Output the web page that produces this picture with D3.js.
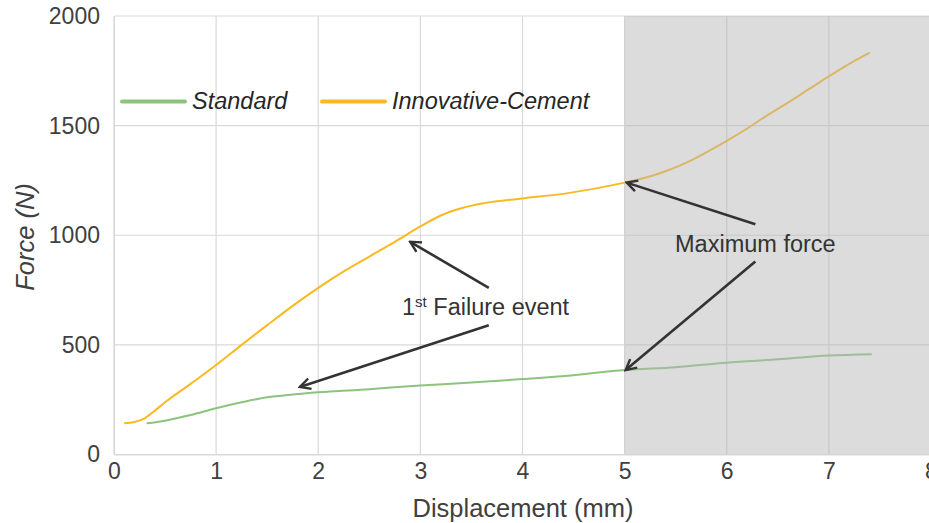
<!DOCTYPE html>
<html>
<head>
<meta charset="utf-8">
<script src="https://cdn.jsdelivr.net/npm/d3@7"></script>
<style>
  html, body { margin: 0; padding: 0; background: #fff; }
  svg { display: block; }
  text { font-family: "Liberation Sans", Arial, sans-serif; }
</style>
</head>
<body>
<svg id="chart" width="929" height="523"></svg>
<script>
// Displacement (mm) / Force (N) curves
const standardX = [0.32, 0.5, 0.75, 1.0, 1.25, 1.5, 1.75, 2.0, 2.5, 3.0, 3.5, 4.0, 4.5, 5.0, 5.5, 6.0, 6.5, 7.0, 7.42];
const standardY = [142, 154, 180, 211, 238, 261, 274, 284, 298, 315, 328, 344, 362, 385, 398, 419, 434, 451, 457];

const cementX = [0.1, 0.2, 0.3, 0.4, 0.5, 0.75, 1.0, 1.25, 1.5, 1.75, 2.0, 2.25, 2.5, 2.75, 3.0, 3.2, 3.4, 3.62, 4.0, 4.43, 5.0, 5.2, 5.4, 5.6, 5.8, 6.0, 6.2, 6.4, 6.6, 6.8, 7.0, 7.2, 7.4];
const cementY = [142, 148, 165, 200, 238, 322, 408, 500, 590, 678, 760, 835, 903, 970, 1040, 1090, 1123, 1146, 1168, 1191, 1240, 1262, 1292, 1330, 1378, 1430, 1487, 1548, 1605, 1665, 1725, 1782, 1833];

const xTicks = [0, 1, 2, 3, 4, 5, 6, 7, 8];
const yTicks = [0, 500, 1000, 1500, 2000];
const seriesNames = ["Standard", "Innovative-Cement"];
const seriesColors = ["#8cc47f", "#fbb921"];
const shadedFrom = 5;   // displacement where the post-peak zone begins

// Annotation arrows in data units
const maxForceArrows = [
  { from: [6.28, 1050], to: [5.02, 1240] },
  { from: [6.28, 880],  to: [5.01, 385] }
];
const failureArrows = [
  { from: [3.67, 760], to: [2.9, 970] },
  { from: [3.67, 590], to: [1.82, 308] }
];

const svg = d3.select("#chart");
const x = d3.scaleLinear().domain([0, 8]).range([114, 931]);
const y = d3.scaleLinear().domain([0, 2000]).range([454.5, 16]);

const gridColor = "#d9d9d9";
const textColor = "#404040";
const fontFamily = "Liberation Sans, Arial, sans-serif";

svg.append("defs").append("marker")
  .attr("id", "head")
  .attr("viewBox", "0 0 14 14")
  .attr("refX", 12).attr("refY", 7)
  .attr("markerWidth", 14).attr("markerHeight", 14)
  .attr("markerUnits", "userSpaceOnUse")
  .attr("orient", "auto")
  .append("path")
  .attr("d", "M1.5,1.5 L12,7 L1.5,12.5")
  .attr("fill", "none").attr("stroke", "#333").attr("stroke-width", 2.4)
  .attr("stroke-linejoin", "miter");

// Grid
const grid = svg.append("g");
grid.selectAll(".gx").data(xTicks).join("line")
  .attr("x1", d => x(d)).attr("x2", d => x(d))
  .attr("y1", y(2000)).attr("y2", y(0))
  .attr("stroke", gridColor).attr("stroke-width", 1.2);
grid.selectAll(".gy").data(yTicks).join("line")
  .attr("x1", x(0)).attr("x2", x(8))
  .attr("y1", d => y(d)).attr("y2", d => y(d))
  .attr("stroke", gridColor).attr("stroke-width", 1.2);

// Curves
const line = d3.line().x(d => x(d[0])).y(d => y(d[1])).curve(d3.curveMonotoneX);
const curves = [
  d3.zip(standardX, standardY),
  d3.zip(cementX, cementY)
];
svg.append("g").selectAll("path").data(curves).join("path")
  .attr("d", line)
  .attr("fill", "none")
  .attr("stroke", (d, i) => seriesColors[i])
  .attr("stroke-width", 2);

// Translucent post-peak zone laid over the grid and curves
svg.append("rect")
  .attr("x", x(shadedFrom)).attr("y", y(2000))
  .attr("width", x(8) - x(shadedFrom)).attr("height", y(0) - y(2000))
  .attr("fill", "rgb(180,180,180)").attr("fill-opacity", 0.47);

// Axes
const xAxis = d3.axisBottom(x).tickValues(xTicks).tickSize(0).tickPadding(8);
const gx = svg.append("g").attr("transform", `translate(0,${y(0)})`).call(xAxis);
gx.select(".domain").attr("stroke", gridColor).attr("stroke-width", 1.2);
gx.selectAll("text").attr("font-size", 23).attr("fill", textColor)
  .attr("font-family", fontFamily);

const yAxis = d3.axisLeft(y).tickValues(yTicks).tickFormat(d3.format("d"))
  .tickSize(0).tickPadding(14);
const gy = svg.append("g").attr("transform", `translate(${x(0)},0)`).call(yAxis);
gy.select(".domain").attr("stroke", gridColor).attr("stroke-width", 1.2);
gy.selectAll("text").attr("font-size", 23).attr("fill", textColor)
  .attr("font-family", fontFamily);

// Axis titles
svg.append("text")
  .attr("x", 523).attr("y", 517)
  .attr("text-anchor", "middle")
  .attr("font-size", 25.5).attr("fill", textColor)
  .text("Displacement (mm)");
svg.append("text")
  .attr("transform", `translate(34,237) rotate(-90)`)
  .attr("text-anchor", "middle")
  .attr("font-size", 25.5).attr("font-style", "italic").attr("fill", textColor)
  .text("Force (N)");

// Legend
const legendPos = [{ x: 122, tx: 192 }, { x: 322, tx: 392 }];
const legend = svg.append("g");
seriesNames.forEach((name, i) => {
  legend.append("line")
    .attr("x1", legendPos[i].x).attr("x2", legendPos[i].x + 63)
    .attr("y1", 101.5).attr("y2", 101.5)
    .attr("stroke", seriesColors[i]).attr("stroke-width", 4)
    .attr("stroke-linecap", "round");
  legend.append("text")
    .attr("x", legendPos[i].tx).attr("y", 109)
    .attr("font-size", 23.5).attr("font-style", "italic").attr("fill", "#262626")
    .text(name);
});

// Annotation arrows
svg.append("g").selectAll("line").data(maxForceArrows.concat(failureArrows)).join("line")
  .attr("x1", d => x(d.from[0])).attr("y1", d => y(d.from[1]))
  .attr("x2", d => x(d.to[0])).attr("y2", d => y(d.to[1]))
  .attr("stroke", "#333").attr("stroke-width", 2.6)
  .attr("marker-end", "url(#head)");

// Annotation labels
svg.append("text")
  .attr("x", x(6.28)).attr("y", 252)
  .attr("text-anchor", "middle")
  .attr("font-size", 23.5).attr("fill", "#333")
  .text("Maximum force");

const fail = svg.append("text")
  .attr("x", 402).attr("y", 315)
  .attr("font-size", 23.5).attr("fill", "#333");
fail.append("tspan").text("1");
fail.append("tspan").attr("font-size", 15).attr("dy", -8).text("st");
fail.append("tspan").attr("dy", 8).text(" Failure event");
</script>
</body>
</html>
